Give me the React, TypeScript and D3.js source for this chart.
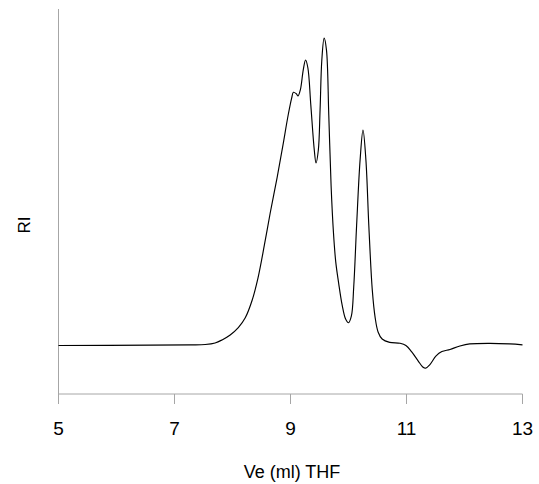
import React from "react";
import * as d3 from "d3";

const W = 539;
const H = 484;

// Elution volume (ml) and RI signal (baseline = 0, tallest peak = 1)
const elutionVolume = [
  5.0, 6.58, 7.27, 7.53, 7.7, 7.82, 7.96, 8.1, 8.22, 8.34, 8.44, 8.55, 8.65, 8.77, 8.87, 8.96,
  9.02, 9.05, 9.1, 9.13, 9.17, 9.22, 9.26, 9.3, 9.35, 9.41, 9.44, 9.48, 9.51, 9.54, 9.58, 9.62,
  9.66, 9.7, 9.74, 9.78, 9.83, 9.89, 9.95, 10.0, 10.05, 10.09, 10.14, 10.2, 10.25, 10.3, 10.35,
  10.41, 10.46, 10.51, 10.58, 10.71, 10.89, 10.99, 11.09, 11.2, 11.28, 11.33, 11.4, 11.51, 11.61,
  11.75, 11.92, 12.09, 12.44, 12.78, 13.0,
];
const riSignal = [
  0, 0.001, 0.002, 0.003, 0.008, 0.018, 0.034, 0.058, 0.09, 0.148, 0.22, 0.327, 0.431, 0.547,
  0.652, 0.75, 0.805, 0.824, 0.819, 0.812, 0.832, 0.897, 0.929, 0.903, 0.783, 0.636, 0.594,
  0.636, 0.767, 0.929, 1.0, 0.962, 0.75, 0.52, 0.369, 0.272, 0.203, 0.132, 0.086, 0.074, 0.096,
  0.19, 0.391, 0.604, 0.701, 0.604, 0.391, 0.181, 0.09, 0.044, 0.021, 0.01, 0.007, 0, -0.021,
  -0.05, -0.07, -0.074, -0.063, -0.034, -0.02, -0.013, -0.002, 0.005, 0.007, 0.005, 0.002,
];
const xTicks = [5, 7, 9, 11, 13];
const xLabel = "Ve (ml) THF";
const yLabel = "RI";

export default function App() {
  const x = d3.scaleLinear().domain([5, 13]).range([58.5, 522.5]);
  const y = d3.scaleLinear().domain([-0.158, 1.095]).range([394, 9]);
  const data = elutionVolume.map((v, i) => [v, riSignal[i]] as [number, number]);
  const line = d3
    .line<[number, number]>()
    .x((d) => x(d[0]))
    .y((d) => y(d[1]))
    .curve(d3.curveCatmullRom.alpha(0.5));
  const font = "'Liberation Sans', Arial, sans-serif";
  const axisColor = "#a6a6a6";
  return (
    <svg
      width={W}
      height={H}
      style={{ position: "absolute", left: 0, top: 0, background: "#fff" }}
    >
      <rect width={W} height={H} fill="#fff" />
      {/* y axis */}
      <line x1={x(5)} x2={x(5)} y1={9} y2={394} stroke={axisColor} strokeWidth={1} />
      {/* x axis */}
      <line x1={x(5)} x2={x(13)} y1={394} y2={394} stroke={axisColor} strokeWidth={1} />
      {xTicks.map((t) => (
        <g key={t}>
          <line x1={x(t)} x2={x(t)} y1={394} y2={404} stroke={axisColor} strokeWidth={1} />
          <text
            x={x(t)}
            y={435}
            textAnchor="middle"
            fontFamily={font}
            fontSize={19}
            fill="#000"
          >
            {t}
          </text>
        </g>
      ))}
      <path d={line(data) || ""} fill="none" stroke="#000" strokeWidth={1.15} />
      <text
        x={292}
        y={478}
        textAnchor="middle"
        fontFamily={font}
        fontSize={18}
        fill="#000"
      >
        {xLabel}
      </text>
      <text
        transform="translate(29.5,225) rotate(-90)"
        textAnchor="middle"
        fontFamily={font}
        fontSize={17}
        fill="#000"
      >
        {yLabel}
      </text>
    </svg>
  );
}
